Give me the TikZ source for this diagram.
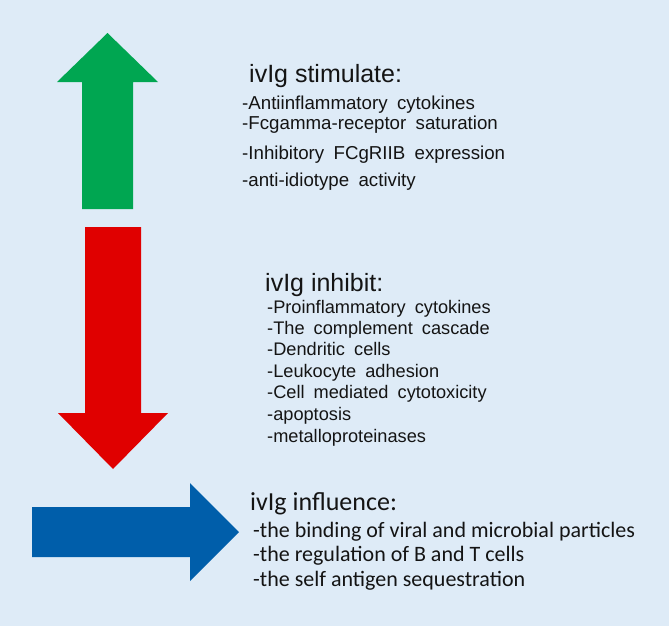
\documentclass[tikz,border=0pt]{standalone}
\usepackage{fontspec}
\newfontfamily\arialf{Liberation Sans}
\newfontfamily\calf{Carlito}
\newcommand\myitemfontA{\arialf\fontsize{18.7}{20}\selectfont\setlength{\spaceskip}{0.5em}}
\newcommand\myitemfontB{\arialf\fontsize{18.2}{20}\selectfont\setlength{\spaceskip}{0.5em}}
\definecolor{bgc}{RGB}{222,235,247}
\definecolor{grn}{RGB}{0,166,81}
\definecolor{rd}{RGB}{224,0,0}
\definecolor{blu}{RGB}{0,94,170}
\definecolor{txt}{RGB}{20,20,20}
\tikzset{
  headA/.style={anchor=base west, inner sep=0pt, text=txt, font=\arialf\fontsize{25}{30}\selectfont},
  itemA/.style={anchor=base west, inner sep=0pt, text=txt, font=\myitemfontA},
  itemB/.style={anchor=base west, inner sep=0pt, text=txt, font=\myitemfontB},
  headC/.style={anchor=base west, inner sep=0pt, text=txt, font=\calf\fontsize{26}{30}\selectfont},
  itemC/.style={anchor=base west, inner sep=0pt, text=txt, font=\calf\fontsize{22}{24}\selectfont},
}
\begin{document}
\begin{tikzpicture}[x=1pt,y=-1pt]
\fill[bgc] (0,0) rectangle (669,626);
\useasboundingbox (0,0) rectangle (669,626);
% arrows
\fill[grn] (82,209) -- (82,82) -- (57,82) -- (107.5,33) -- (158,82) -- (133,82) -- (133,209) -- cycle;
\fill[rd] (85,227) -- (141,227) -- (141,413) -- (168,413) -- (113,469) -- (58,413) -- (85,413) -- cycle;
\fill[blu] (32,507) -- (190,507) -- (190,483) -- (239,532) -- (190,581) -- (190,557) -- (32,557) -- cycle;
% stimulate
\node[headA] (hs) at (249,82) {ivIg stimulate:};
\node[itemA] (s1) at (242,109) {-Antiinflammatory cytokines};
\node[itemA] (s2) at (242,129) {-Fcgamma-receptor saturation};
\node[itemA] (s3) at (242,159) {-Inhibitory FCgRIIB expression};
\node[itemA] (s4) at (242,186) {-anti-idiotype activity};
% inhibit
\node[headA] (hi) at (265,291) {ivIg inhibit:};
\node[itemB] (i1) at (267,313) {-Proinflammatory cytokines};
\node[itemB] (i2) at (267,334) {-The complement cascade};
\node[itemB] (i3) at (267,355) {-Dendritic cells};
\node[itemB] (i4) at (267,377) {-Leukocyte adhesion};
\node[itemB] (i5) at (267,398) {-Cell mediated cytotoxicity};
\node[itemB] (i6) at (267,420) {-apoptosis};
\node[itemB] (i7) at (267,442) {-metalloproteinases};
% influence
\node[headC] (hf) at (250,510) {ivIg influence:};
\node[itemC] (f1) at (253,537) {-the binding of viral and microbial particles};
\node[itemC] (f2) at (253,561) {-the regulation of B and T cells};
\node[itemC] (f3) at (253,586) {-the self antigen sequestration};
\end{tikzpicture}
\end{document}
